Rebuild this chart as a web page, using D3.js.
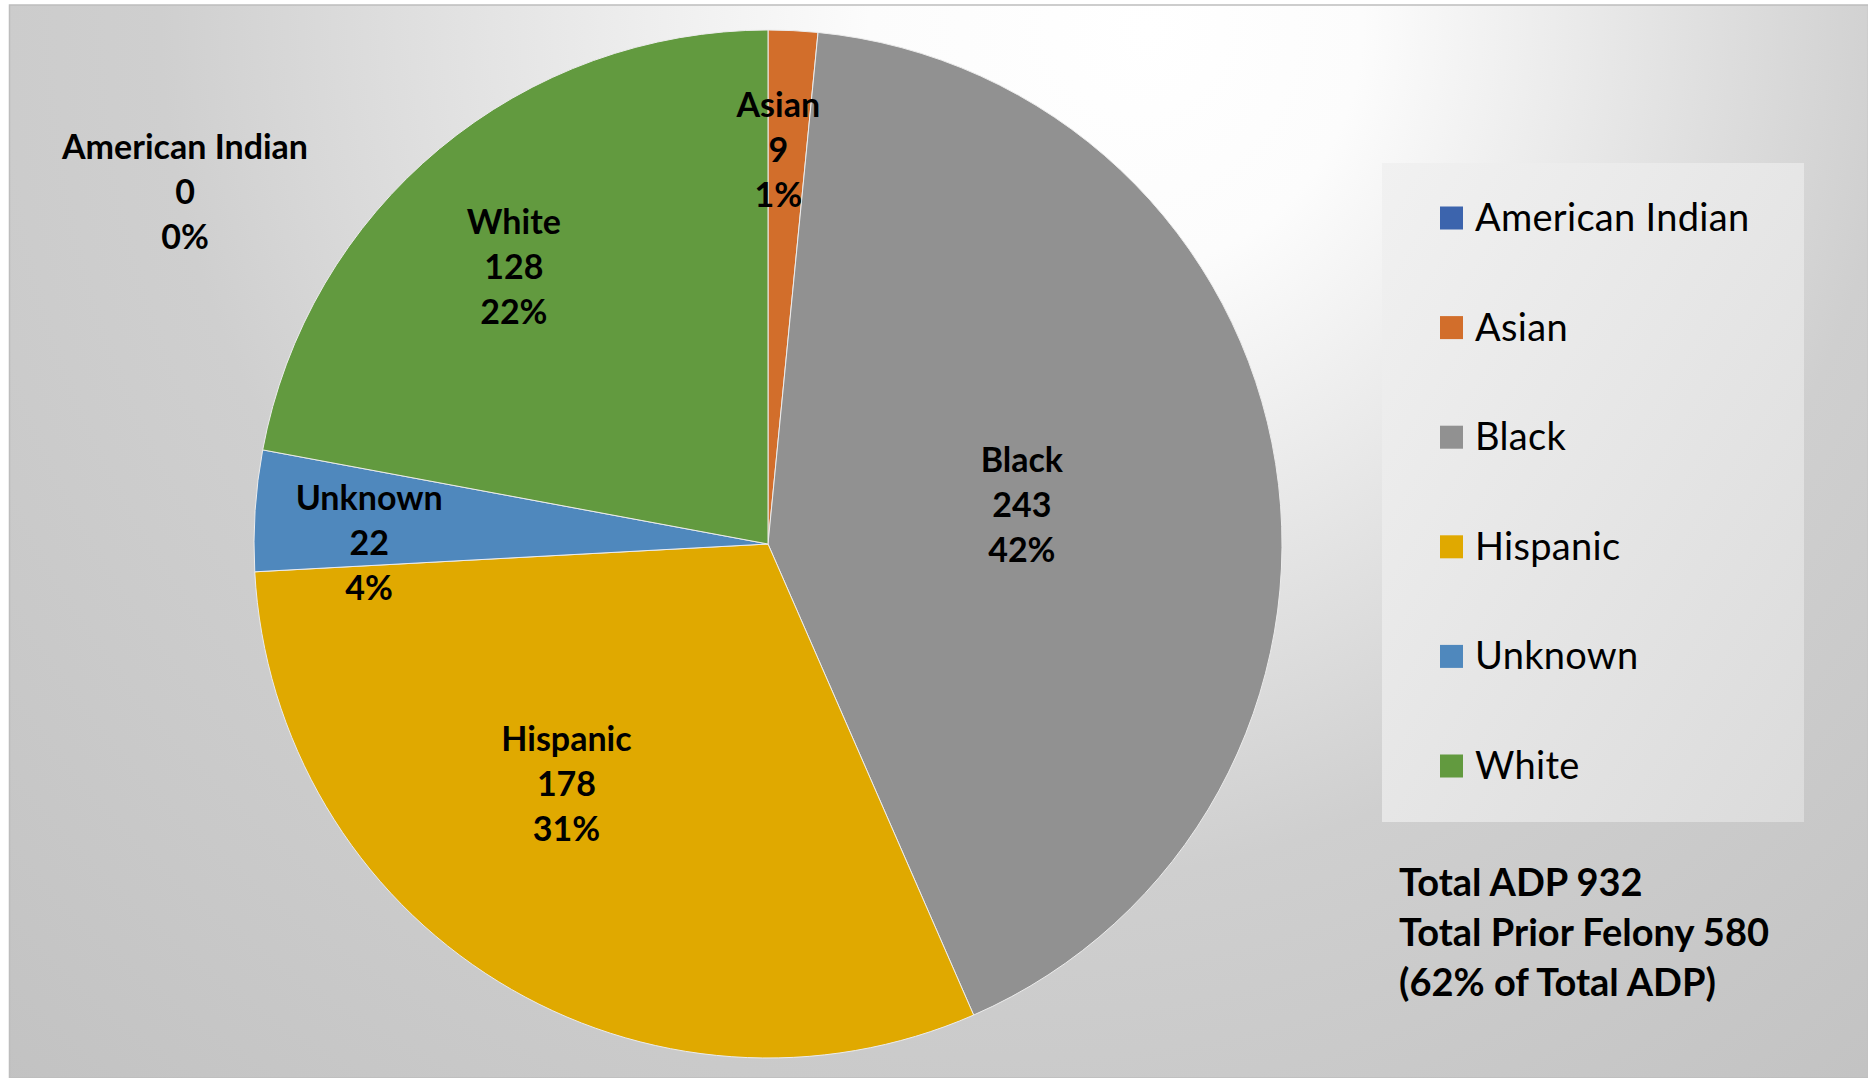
<!DOCTYPE html>
<html>
<head>
<meta charset="utf-8">
<script src="https://cdnjs.cloudflare.com/ajax/libs/d3/7.8.5/d3.min.js"></script>
<style>
  body { margin: 0; background: #fff; }
  svg { display: block; }
  text { font-family: Lato, Calibri, Carlito, sans-serif; fill: #000; }
</style>
</head>
<body>
<div id="chartWrapper"></div>
<script>
//data
let categories = ["American Indian", "Asian", "Black", "Hispanic", "Unknown", "White"];
let counts = [0, 9, 243, 178, 22, 128];
let percents = ["0%", "1%", "42%", "31%", "4%", "22%"];
let sliceColors = ["#3c64ad", "#d26e2b", "#919191", "#e0a900", "#4f88bd", "#629a3f"];
let noteLines = ["Total ADP 932", "Total Prior Felony 580", "(62% of Total ADP)"];

//canvas
let canvasW = 1868, canvasH = 1078;
let cx = 768, cy = 544, radius = 514;

//label placement (Excel "best fit"): radius factor, angle shift in degrees
let labelPlace = [[1.326, -58.8], [0.769, -1.3], [0.5, 0], [0.608, 8.5], [0.776, -3.4], [0.733, -2.7]];

let svg = d3.select('#chartWrapper')
  .append('svg')
  .attr('width', canvasW)
  .attr('height', canvasH);

let defs = svg.append('defs');

//chart area gradient (focus pushed to the right, like Excel's)
let bgGrad = defs.append('radialGradient')
  .attr('id', 'bgGrad')
  .attr('gradientUnits', 'userSpaceOnUse')
  .attr('cx', 950).attr('cy', 0).attr('r', 1450)
  .attr('fx', 1150).attr('fy', 30);
bgGrad.append('stop').attr('offset', 0).attr('stop-color', '#ffffff');
bgGrad.append('stop').attr('offset', 0.17).attr('stop-color', '#fcfcfc');
bgGrad.append('stop').attr('offset', 0.6).attr('stop-color', '#cfcfcf');
bgGrad.append('stop').attr('offset', 1).attr('stop-color', '#c2c2c2');

//legend gradient
let legGrad = defs.append('linearGradient')
  .attr('id', 'legGrad')
  .attr('x1', 0).attr('y1', 0).attr('x2', 1).attr('y2', 1);
legGrad.append('stop').attr('offset', 0).attr('stop-color', '#f1f1f1');
legGrad.append('stop').attr('offset', 1).attr('stop-color', '#dbdbdb');

svg.append('rect')
  .attr('x', 9.5).attr('y', 5)
  .attr('width', canvasW - 9).attr('height', canvasH - 5)
  .style('fill', 'url(#bgGrad)')
  .style('stroke', '#bdbdbd')
  .style('stroke-width', 1.5);

//pie
let pie = d3.pie().sort(null).value(function(d) { return d; });
let arcs = pie(counts);
let arc = d3.arc().innerRadius(0).outerRadius(radius);
let color = d3.scaleOrdinal().domain(categories).range(sliceColors);

let pieG = svg.append('g')
  .attr('class', 'pie')
  .attr('transform', 'translate(' + cx + ',' + cy + ')');

pieG.selectAll('.slice')
  .data(arcs)
  .enter()
  .append('path')
  .attr('class', 'slice')
  .attr('d', arc)
  .style('fill', function(d, i) { return color(categories[i]); })
  .style('stroke', '#ececec')
  .style('stroke-width', function(d) { return d.value > 0 ? 1 : 0; });

//data labels
let labels = pieG.selectAll('.lbl')
  .data(arcs)
  .enter()
  .append('text')
  .attr('class', 'lbl')
  .attr('text-anchor', 'middle')
  .style('font-size', '34px')
  .style('font-weight', 'bold')
  .attr('transform', function(d, i) {
    let r = radius * labelPlace[i][0];
    let mid = (d.startAngle + d.endAngle) / 2 + labelPlace[i][1] * Math.PI / 180;
    let p = d3.arc().innerRadius(r).outerRadius(r).centroid({startAngle: mid, endAngle: mid});
    return 'translate(' + p[0] + ',' + (p[1] + 13) + ')';
  });

labels.each(function(d, i) {
  let t = d3.select(this);
  [categories[i], counts[i], percents[i]].forEach(function(s, k) {
    t.append('tspan').attr('x', 0).attr('y', (k - 1) * 45).text(s);
  });
});

//legend
let legend = svg.append('g').attr('class', 'legend');
legend.append('rect')
  .attr('x', 1382).attr('y', 163)
  .attr('width', 422).attr('height', 659)
  .style('fill', 'url(#legGrad)');

let legY = d3.scalePoint().domain(categories).range([218, 766]);

let items = legend.selectAll('.leg-item')
  .data(categories)
  .enter()
  .append('g')
  .attr('class', 'leg-item')
  .attr('transform', function(d) { return 'translate(1440,' + legY(d) + ')'; });

items.append('rect')
  .attr('x', 0).attr('y', -11.5)
  .attr('width', 23).attr('height', 23)
  .style('fill', function(d) { return color(d); });

items.append('text')
  .attr('x', 35).attr('y', 13)
  .style('font-size', '38px')
  .style('letter-spacing', '0.3px')
  .text(function(d) { return d; });

//totals note
svg.append('g')
  .attr('class', 'note')
  .selectAll('text')
  .data(noteLines)
  .enter()
  .append('text')
  .attr('x', 1399)
  .attr('y', function(d, i) { return 896 + i * 50; })
  .style('font-size', '38px')
  .style('font-weight', 'bold')
  .text(function(d) { return d; });
</script>
</body>
</html>
